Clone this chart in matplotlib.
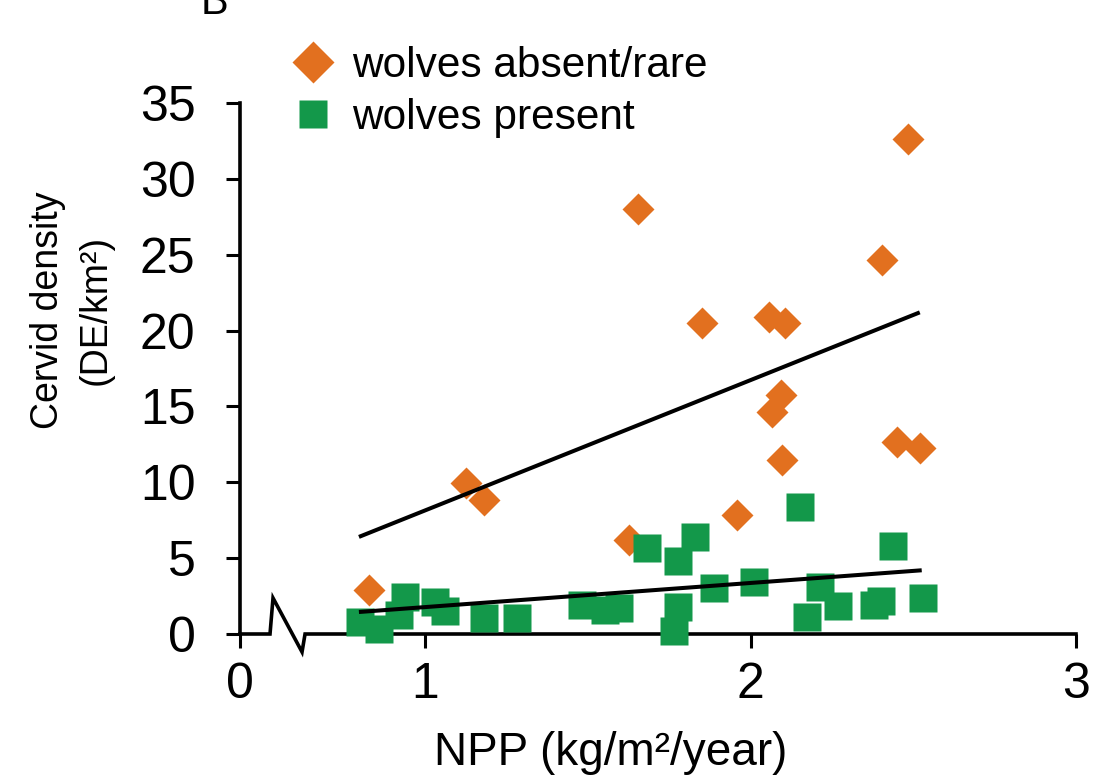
import numpy as np
import matplotlib
matplotlib.use("Agg")
import matplotlib.pyplot as plt
from matplotlib.lines import Line2D

plt.rcParams['font.family'] = ['Liberation Sans', 'DejaVu Sans']

# ---------------- data ----------------
absent_npp = [0.828, 1.126, 1.18, 1.628, 1.655, 1.852, 1.957, 2.058, 2.105,
              2.095, 2.065, 2.098, 2.403, 2.449, 2.52, 2.483]
absent_density = [2.9, 9.95, 8.83, 6.2, 28.0, 20.5, 7.84, 20.9, 20.5,
                  15.75, 14.6, 11.5, 24.65, 12.66, 12.26, 32.6]

present_npp = [0.80, 0.86, 0.92, 0.94, 1.03, 1.06, 1.18, 1.283, 1.483, 1.553,
               1.597, 1.683, 1.778, 1.828, 1.778, 1.766, 1.889, 2.012, 2.151,
               2.175, 2.215, 2.27, 2.38, 2.40, 2.437, 2.529]
present_density = [0.8, 0.3, 1.25, 2.45, 2.1, 1.5, 1.05, 1.05, 1.9, 1.58,
                   1.7, 5.7, 4.8, 6.4, 1.8, 0.2, 3.0, 3.4, 8.4,
                   1.1, 3.1, 1.85, 1.9, 2.2, 5.8, 2.4]

# fitted trend lines (end points)
fit_absent_x = [0.797, 2.52]
fit_absent_y = [6.4, 21.2]
fit_present_x = [0.797, 2.526]
fit_present_y = [1.45, 4.2]

x_ticks = [0, 1, 2, 3]
y_ticks = [0, 5, 10, 15, 20, 25, 30, 35]

ORANGE = '#E2701F'
GREEN = '#13984A'

# ---------------- broken x scale ----------------
BREAK = 0.7
S0 = 0.4316


def fwd(x):
    x = np.asarray(x, dtype=float)
    return np.where(x >= BREAK, x, S0 + x * (BREAK - S0) / BREAK)


def inv(s):
    s = np.asarray(s, dtype=float)
    return np.where(s >= BREAK, s, (s - S0) * BREAK / (BREAK - S0))


W, H = 1095, 782
fig = plt.figure(figsize=(W / 100, H / 100), dpi=100)
ax = fig.add_axes([240 / W, 1 - 634 / H, (1076 - 240) / W, (634 - 103) / H])
ax.set_xscale('function', functions=(fwd, inv))

ax.plot(absent_npp, absent_density, linestyle='none', marker='D', ms=16.3,
        mfc=ORANGE, mec='none', zorder=3, clip_on=False)
ax.plot(present_npp, present_density, linestyle='none', marker='s', ms=19.5,
        mfc=GREEN, mec='none', zorder=4, clip_on=False)
ax.plot(fit_absent_x, fit_absent_y, color='black', lw=2.9, zorder=5,
        solid_capstyle='butt')
ax.plot(fit_present_x, fit_present_y, color='black', lw=2.9, zorder=5,
        solid_capstyle='butt')

ax.set_xlim(0, 3)
ax.set_ylim(0, 35)
ax.set_xticks(x_ticks)
ax.set_yticks(y_ticks)
ax.set_xticklabels([str(t) for t in x_ticks])
ax.set_yticklabels([str(t) for t in y_ticks])
ax.tick_params(axis='both', direction='out', length=10, width=2.2,
               labelsize=36, color='black')
ax.tick_params(axis='y', pad=22)
ax.tick_params(axis='x', pad=10)

for side in ['top', 'right', 'bottom']:
    ax.spines[side].set_visible(False)
ax.spines['left'].set_linewidth(2.6)

# bottom axis line with break symbol (axes-fraction coordinates)
bx = [0, 0.0359, 0.0395, 0.0742, 0.0778, 1.0]
by = [0, 0, 0.0678, -0.0339, 0, 0]
ax.add_line(Line2D(bx, by, transform=ax.transAxes, color='black', lw=2.6,
                   clip_on=False, zorder=2.5, solid_joinstyle='miter'))

# axis labels
fig.text(611 / W, 1 - 753 / H, 'NPP (kg/m²/year)', ha='center', va='center',
         fontsize=33)
fig.text(72 / W, 1 - 310 / H, 'Cervid density\n(DE/km²)', ha='center',
         va='center', rotation=90, fontsize=27, linespacing=1.42,
         multialignment='center')

# partially visible panel letter (cut off at the top, as in the original)
fig.text(201 / W, 1 - 14 / H, 'B', ha='left', va='baseline', fontsize=30)

# legend
handles = [
    Line2D([], [], linestyle='none', marker='D', ms=21, mfc=ORANGE, mec='none'),
    Line2D([], [], linestyle='none', marker='s', ms=20.5, mfc=GREEN, mec='none'),
]
fig.legend(handles, ['wolves absent/rare', 'wolves present'],
           loc='upper left', bbox_to_anchor=(292 / W, 1 - 46 / H),
           frameon=False, fontsize=30.5, handlelength=1.0, handletextpad=0.42,
           labelspacing=0.28, borderaxespad=0, borderpad=0)

fig.savefig('out.png', dpi=100)
